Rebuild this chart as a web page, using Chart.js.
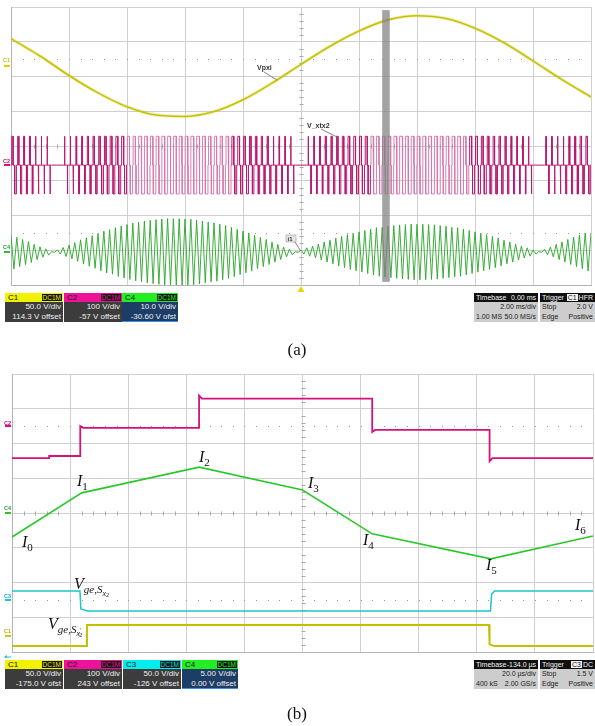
<!DOCTYPE html>
<html lang="en">
<head>
<meta charset="utf-8">
<title>Inverter waveforms</title>
<script src="https://cdn.jsdelivr.net/npm/chart.js@4.4.1/dist/chart.umd.min.js"></script>
<style>
  html,body{margin:0;padding:0;background:#fff}
  body{position:relative;width:595px;height:726px;overflow:hidden;font-family:"Liberation Sans",Arial,sans-serif}
  .scope{position:absolute;left:0}
  .scope canvas{display:block}
  .box{position:absolute;font-size:8px;line-height:9px;overflow:hidden;white-space:nowrap}
  .ch{width:58px;height:29px;background:#3c3c3c;color:#f0f0f0}
  .ch .hd{height:9px;padding-left:3px;color:#111;position:relative}
  .ch .tag{position:absolute;right:1px;top:1px;height:7px;line-height:7px;font-size:6.5px;padding:0 1px;background:#151515}
  .ch .rw{height:9.5px;line-height:9.5px;text-align:right;padding-right:2px}
  .ch.sel .rw{background:#1d3d66}
  .ch.sel{box-shadow:inset 0 0 0 1px #3d8fe8}
  .tb{height:29px;background:#cdcdcd;color:#1a1a1a;font-size:7px}
  .tb .hd{height:9px;background:#101010;color:#f4f4f4;padding:0 2px;display:flex;justify-content:space-between}
  .tb .rw{height:9.5px;line-height:9.5px;padding:0 2px;display:flex;justify-content:space-between}
  .tb .tg b{background:#f4f4f4;color:#111;font-weight:normal;padding:0 1px;margin-right:1px}
  svg.ann{position:absolute;left:0;top:0;pointer-events:none}
  .m{font-family:"Liberation Serif","Times New Roman",serif;font-size:16px;fill:#111}
  .sl{font-family:"Liberation Sans",Arial,sans-serif;font-size:7px;font-weight:bold;fill:#333}
  .ct{font-family:"Liberation Sans",Arial,sans-serif;font-size:5.5px;font-weight:bold}
</style>
</head>
<body>

<div class="scope" style="top:0"><canvas id="scopeA" width="595" height="292"></canvas></div>
<div class="scope" style="top:365px"><canvas id="scopeB" width="595" height="293"></canvas></div>

<!-- channel / timebase readouts, upper capture -->
<div class="box ch" style="left:5px;top:293px"><div class="hd" style="background:#f2f200">C1<span class="tag" style="color:#e8e800">DC1M</span></div><div class="rw">50.0 V/div</div><div class="rw">114.3 V offset</div></div>
<div class="box ch" style="left:64px;top:293px"><div class="hd" style="background:#ee1199">C2<span class="tag" style="color:#ee1199">DC1M</span></div><div class="rw">100 V/div</div><div class="rw">-57 V offset</div></div>
<div class="box ch sel" style="left:122px;top:293px;width:56px"><div class="hd" style="background:#22ee22">C4<span class="tag" style="color:#22ee22">DC1M</span></div><div class="rw">10.0 V/div</div><div class="rw">-30.60 V ofst</div></div>
<div class="box tb" style="left:474px;top:293px;width:64px"><div class="hd"><span>Timebase</span><span>0.00 ms</span></div><div class="rw"><span></span><span>2.00 ms/div</span></div><div class="rw"><span>1.00 MS</span><span>50.0 MS/s</span></div></div>
<div class="box tb" style="left:540px;top:293px;width:55px"><div class="hd"><span>Trigger</span><span class="tg"><b>C1</b>HFR</span></div><div class="rw"><span>Stop</span><span>2.0 V</span></div><div class="rw"><span>Edge</span><span>Positive</span></div></div>

<!-- channel / timebase readouts, lower capture -->
<div class="box ch" style="left:5px;top:660px"><div class="hd" style="background:#f2f200">C1<span class="tag" style="color:#e8e800">DC1M</span></div><div class="rw">50.0 V/div</div><div class="rw">-175.0 V ofst</div></div>
<div class="box ch" style="left:64px;top:660px"><div class="hd" style="background:#ee1199">C2<span class="tag" style="color:#ee1199">DC1M</span></div><div class="rw">100 V/div</div><div class="rw">243 V offset</div></div>
<div class="box ch" style="left:123px;top:660px"><div class="hd" style="background:#00eeee">C3<span class="tag" style="color:#00dddd">DC1M</span></div><div class="rw">50.0 V/div</div><div class="rw">-126 V offset</div></div>
<div class="box ch sel" style="left:182px;top:660px;width:56px"><div class="hd" style="background:#22ee22">C4<span class="tag" style="color:#22ee22">DC1M</span></div><div class="rw">5.00 V/div</div><div class="rw">0.00 V offset</div></div>
<div class="box tb" style="left:474px;top:660px;width:64px"><div class="hd"><span>Timebase</span><span>-134.0 µs</span></div><div class="rw"><span></span><span>20.0 µs/div</span></div><div class="rw"><span>400 kS</span><span>2.00 GS/s</span></div></div>
<div class="box tb" style="left:540px;top:660px;width:55px"><div class="hd"><span>Trigger</span><span class="tg"><b>C3</b>DC</span></div><div class="rw"><span>Stop</span><span>1.5 V</span></div><div class="rw"><span>Edge</span><span>Positive</span></div></div>

<svg class="ann" width="595" height="726" xmlns="http://www.w3.org/2000/svg">
  <!-- trace tags, upper capture -->
  <g stroke="#666" stroke-width="0.8">
    <line x1="264" y1="72" x2="277" y2="80"/>
    <line x1="321" y1="129" x2="337" y2="137"/>
    <line x1="295" y1="242" x2="300" y2="250"/>
  </g>
  <text x="257" y="70" class="sl">Vpxi</text>
  <text x="307" y="128" class="sl">V_xtx2</text>
  <rect x="286" y="235" width="10" height="7" fill="#e6e6e6" stroke="#999" stroke-width="0.6"/>
  <text x="287.5" y="241" class="sl" style="font-size:6px">i1</text>
  <text x="3" y="62" class="ct" fill="#c8c800">C1</text>
  <text x="3" y="163" class="ct" fill="#c0106a">C2</text>
  <text x="3" y="249" class="ct" fill="#20a020">C4</text>
  <!-- trace tags, lower capture -->
  <text x="4" y="425" class="ct" fill="#c0106a">C2</text>
  <text x="4" y="510" class="ct" fill="#20a020">C4</text>
  <text x="4" y="598" class="ct" fill="#10b0c0">C3</text>
  <text x="4" y="633" class="ct" fill="#b0b000">C1</text>

  <text x="22" y="547" class="m"><tspan font-style="italic">I</tspan><tspan font-size="11" dy="4">0</tspan></text>
  <text x="77" y="486" class="m"><tspan font-style="italic">I</tspan><tspan font-size="11" dy="4">1</tspan></text>
  <text x="199" y="462" class="m"><tspan font-style="italic">I</tspan><tspan font-size="11" dy="4">2</tspan></text>
  <text x="308" y="488" class="m"><tspan font-style="italic">I</tspan><tspan font-size="11" dy="4">3</tspan></text>
  <text x="363" y="545" class="m"><tspan font-style="italic">I</tspan><tspan font-size="11" dy="4">4</tspan></text>
  <text x="486" y="570" class="m"><tspan font-style="italic">I</tspan><tspan font-size="11" dy="4">5</tspan></text>
  <text x="575" y="530" class="m"><tspan font-style="italic">I</tspan><tspan font-size="11" dy="4">6</tspan></text>
  <text x="74" y="589" class="m"><tspan font-style="italic">V</tspan><tspan font-size="11" dy="4" font-style="italic">ge,S</tspan><tspan font-size="8" dy="2.5" font-style="italic">x</tspan><tspan font-size="6" dy="1.5">2</tspan></text>
  <text x="48" y="629" class="m"><tspan font-style="italic">V</tspan><tspan font-size="11" dy="4" font-style="italic">ge,S</tspan><tspan font-size="8" dy="2.5" font-style="italic">x</tspan><tspan font-size="6" dy="-3.5">′</tspan><tspan font-size="6" dx="-2" dy="5">2</tspan></text>

  <text x="297" y="355" class="m" text-anchor="middle" style="font-size:17px">(a)</text>
  <text x="297" y="719" class="m" text-anchor="middle" style="font-size:17px">(b)</text>
</svg>

<script>
// ===== Upper capture: 2.00 ms/div, one line period =====
const aTimeTicks = [-10, -8, -6, -4, -2, 0, 2, 4, 6, 8, 10];          // ms
const c1aTime = [-10, -9, -8, -7, -6, -5, -4, -3, -2, -1, 0, 1, 2, 3, 4, 5, 6, 7, 8, 9, 10]; // ms
const c1aVolt = [40, 15, -13, -38, -58, -70, -72, -65, -48, -24, 3, 29, 51, 67, 73, 69, 55, 34, 8, -19, -44]; // V
const swPeriodA = 0.2;      // ms, one switching period
const c2aLevel = 83;        // V, pulse height
// fraction of each switching period spent on each rail
const c2aWidth = [
  .23,.20,.17,.14,.10,.07,.04,0,0,.06,
  .09,.13,.16,.19,.22,.25,.28,.30,.33,.35,
  .37,.39,.41,.42,.43,.44,.45,.45,.45,.45,
  .45,.44,.43,.42,.41,.39,.37,.36,.33,.31,
  .28,.26,.23,.20,.17,.14,.10,.07,.04,0,
  0,.07,.10,.13,.16,.19,.23,.25,.28,.31,
  .33,.35,.37,.39,.41,.42,.43,.44,.45,.45,
  .45,.45,.45,.44,.43,.42,.41,.39,.37,.35,
  .33,.31,.28,.25,.23,.19,.16,.13,.10,.07,
  0,0,.04,.07,.10,.14,.17,.20,.23,.26];
// ripple current peak in each switching period, A
const c4aPeak = [
  4.9,4.2,3.6,3.0,2.2,1.5,0.9,0.1,0.6,1.3,
  2.0,2.7,3.5,4.1,4.7,5.4,6.0,6.4,7.0,7.5,
  7.9,8.3,8.6,8.9,9.1,9.3,9.5,9.6,9.6,9.6,
  9.5,9.4,9.2,8.9,8.6,8.4,8.0,7.6,7.1,6.5,
  6.0,5.5,4.8,4.2,3.6,2.9,2.2,1.4,0.8,0.1,
  0.6,1.2,1.7,2.3,2.9,3.4,4.0,4.5,5.0,5.4,
  5.8,6.2,6.6,7.0,7.1,7.4,7.6,7.8,7.9,8.0,
  8.0,8.0,7.9,7.8,7.6,7.4,7.1,7.0,6.6,6.2,
  5.8,5.4,5.0,4.5,4.0,3.4,2.9,2.3,1.7,1.2,
  0.6,0.1,0.8,1.4,2.2,2.9,3.6,4.2,4.8,5.5];
const cursorA = [2.8, 3.06];  // ms, highlighted span

// ===== Lower capture: 20.0 µs/div, zoom on one interval =====
const bTimeTicks = [-234, -214, -194, -174, -154, -134, -114, -94, -74, -54, -34]; // µs
const c4bTime = [-234, -210, -169.6, -134, -110, -69.2, -34];  // µs, I0..I6
const c4bAmp  = [-3.45, 2.9, 6.6, 3.3, -3.0, -6.6, -3.3];      // A
const c2bEdge = [-221.2, -210.5, -169.6, -110, -69.6];          // µs
const c2bLevel = [-92, -86, -5, 79, -11, -92];                  // V
const c2bOver = [0, 5, 9, -6, -9];                              // V, edge ringing
const c3bTime = [-234, -210.6, -210.3, -208, -69.3, -68.9, -67.9, -34];
const c3bVolt = [12.8, 12.8, -13, -16, -16, 8, 12.8, 12.8];
const c1bTime = [-234, -208.4, -208.2, -69.8, -69.6, -68, -34];
const c1bVolt = [-14.5, -14.5, 16, 16, -12, -14.5, -14.5];

// per-channel vertical settings: units per division and the division holding zero
const chanA = { c1: {perDiv: 50, zero: 6.29}, c2: {perDiv: 100, zero: 3.45}, c4: {perDiv: 10, zero: 0.95} };
const chanB = { c1: {perDiv: 50, zero: 0.46}, c2: {perDiv: 100, zero: 6.5}, c3: {perDiv: 50, zero: 1.5}, c4: {perDiv: 5, zero: 4.0} };

const COL = { c1: '#c4c000', c2: '#d3127a', c3: '#1ec4d0', c4: '#2ac82a' };

// ----- tables for the library -----
const zip = (xs, ys) => xs.map((x, i) => ({x, y: ys[i]}));

function pulseTable(widths, t0, T, level) {
  const pts = [], widthAt = [];
  widths.forEach((w, k) => {
    const a = t0 + k * T;
    if (w <= 0) { pts.push({x: a, y: 0}); widthAt.push(w); return; }
    const g = (1 - 2 * w) / 4 * T, p = w * T;
    const seq = [[a,0],[a+g,0],[a+g,level],[a+g+p,level],[a+g+p,0],[a+3*g+p,0],[a+3*g+p,-level],[a+3*g+2*p,-level],[a+3*g+2*p,0]];
    seq.forEach(([x, y]) => { pts.push({x, y}); widthAt.push(w); });
  });
  pts.push({x: t0 + widths.length * T, y: 0}); widthAt.push(0);
  return {pts, widthAt};
}

function rippleTable(peaks, t0, T) {
  const pts = [];
  peaks.forEach((p, k) => {
    pts.push({x: t0 + k * T, y: p});
    pts.push({x: t0 + (k + 0.5) * T, y: -p});
  });
  pts.push({x: t0 + peaks.length * T, y: peaks[peaks.length - 1]});
  return pts;
}

function stairTable(start, end, edges, levels, over) {
  const pts = [{x: start, y: levels[0]}];
  edges.forEach((t, i) => {
    pts.push({x: t, y: levels[i]}, {x: t, y: levels[i + 1] + over[i]}, {x: t + 1, y: levels[i + 1]});
  });
  pts.push({x: end, y: levels[levels.length - 1]});
  return pts;
}

// ----- shared scope furniture -----
const scopeDecor = {
  id: 'scopeDecor',
  beforeDatasetsDraw(chart, _args, o) {
    const {ctx} = chart, x = chart.scales.x, y = chart.scales.y;
    const xs = (x.max - x.min) / 50;
    const cx = Math.round(x.getPixelForValue((x.min + x.max) / 2)) + 0.5;
    const cy = Math.round(y.getPixelForValue(4)) + 0.5;
    ctx.save();
    ctx.strokeStyle = o.tickColor; ctx.lineWidth = 1; ctx.beginPath();
    for (let i = 1; i < 50; i++) {
      if (i % 5 === 0) continue;
      const px = Math.round(x.getPixelForValue(x.min + i * xs)) + 0.5;
      ctx.moveTo(px, cy - 2); ctx.lineTo(px, cy + 2);
    }
    for (let i = 1; i < 40; i++) {
      if (i % 5 === 0) continue;
      const py = Math.round(y.getPixelForValue(i * 0.2)) + 0.5;
      ctx.moveTo(cx - 2, py); ctx.lineTo(cx + 2, py);
    }
    ctx.stroke();
    ctx.fillStyle = o.dotColor;
    for (const lv of o.dotLevels) {
      const py = Math.round(y.getPixelForValue(lv));
      for (let i = 1; i < 50; i++) ctx.fillRect(Math.round(x.getPixelForValue(x.min + i * xs)), py, 1, 1);
    }
    ctx.restore();
  },
  afterDatasetsDraw(chart, _args, o) {
    const {ctx, chartArea: a} = chart, x = chart.scales.x, y = chart.scales.y;
    ctx.save();
    if (o.cursor) {
      const x0 = x.getPixelForValue(o.cursor[0]), x1 = x.getPixelForValue(o.cursor[1]);
      const y0 = y.getPixelForValue(7.91), y1 = y.getPixelForValue(0.09);
      ctx.fillStyle = 'rgba(128,128,128,0.72)';
      ctx.fillRect(x0, y0, x1 - x0, y1 - y0);
    }
    for (const m of o.markers) {
      const py = Math.round(chart.scales[m.axis].getPixelForValue(0));
      ctx.fillStyle = m.color;
      ctx.fillRect(a.left - 7, py - 1, 6, 2);
    }
    if (o.trigger) {
      const px = x.getPixelForValue(o.trigger.t);
      ctx.fillStyle = o.trigger.color;
      ctx.beginPath(); ctx.moveTo(px, a.bottom + 1); ctx.lineTo(px - 3.5, a.bottom + 7); ctx.lineTo(px + 3.5, a.bottom + 7); ctx.closePath(); ctx.fill();
    }
    if (o.levelArrow) {
      ctx.strokeStyle = o.levelArrow.color; ctx.fillStyle = o.levelArrow.color; ctx.lineWidth = 1;
      const py = a.bottom + 5;
      ctx.beginPath(); ctx.moveTo(a.left - 6, py); ctx.lineTo(a.left - 1, py); ctx.stroke();
      ctx.beginPath(); ctx.moveTo(a.left - 8, py); ctx.lineTo(a.left - 5, py - 2); ctx.lineTo(a.left - 5, py + 2); ctx.closePath(); ctx.fill();
    }
    ctx.restore();
  }
};

function chanScales(ch) {
  const out = {};
  for (const [id, c] of Object.entries(ch)) {
    out[id] = {type: 'linear', display: false, min: -c.zero * c.perDiv, max: (8 - c.zero) * c.perDiv};
  }
  return out;
}

function baseOptions(ticksX, pad, ch, decor) {
  const grid = {color: '#cfcfcf', lineWidth: 1, drawTicks: false};
  return {
    responsive: false, animation: false, devicePixelRatio: 1, events: [],
    layout: {padding: pad},
    plugins: {legend: {display: false}, tooltip: {enabled: false}, scopeDecor: decor},
    elements: {point: {radius: 0}, line: {tension: 0, borderCapStyle: 'butt'}},
    scales: Object.assign({
      x: {type: 'linear', min: ticksX[0], max: ticksX[ticksX.length - 1],
          afterBuildTicks: s => { s.ticks = ticksX.map(v => ({value: v})); },
          ticks: {display: false}, grid, border: {color: '#b4b4b4'}},
      y: {type: 'linear', min: 0, max: 8,
          afterBuildTicks: s => { s.ticks = [0,1,2,3,4,5,6,7,8].map(v => ({value: v})); },
          ticks: {display: false}, grid, border: {color: '#b4b4b4'}}
    }, chanScales(ch))
  };
}

// ----- upper capture -----
const c2a = pulseTable(c2aWidth, aTimeTicks[0], swPeriodA, c2aLevel);
new Chart(document.getElementById('scopeA'), {
  type: 'line',
  data: {datasets: [
    {label: 'C1 ripple', yAxisID: 'c1', data: zip(c1aTime, c1aVolt), borderColor: 'rgba(205,200,30,0.28)', borderWidth: 3.5, cubicInterpolationMode: 'monotone'},
    {label: 'C1', yAxisID: 'c1', data: zip(c1aTime, c1aVolt), borderColor: COL.c1, borderWidth: 1.6, cubicInterpolationMode: 'monotone'},
    {label: 'C2', yAxisID: 'c2', data: c2a.pts, borderWidth: 1,
     segment: {borderColor: ctx => c2a.widthAt[ctx.p0DataIndex] >= 0.36 ? 'rgba(214,120,172,0.95)' : '#b8186f'}},
    {label: 'C4', yAxisID: 'c4', data: rippleTable(c4aPeak, aTimeTicks[0], swPeriodA), borderColor: 'rgba(48,170,48,0.95)', borderWidth: 1}
  ]},
  options: baseOptions(aTimeTicks, {left: 11, right: 4, top: 7, bottom: 7}, chanA, {
    tickColor: '#a8a8a8', dotColor: '#9a9a9a', dotLevels: [1.5, 6.5], cursor: cursorA,
    markers: [{axis: 'c1', color: '#d8d000'}, {axis: 'c2', color: '#d3127a'}, {axis: 'c4', color: '#30c030'}],
    trigger: {t: 0, color: '#e8d400'}
  }),
  plugins: [scopeDecor]
});

// ----- lower capture -----
const tB0 = bTimeTicks[0], tB1 = bTimeTicks[bTimeTicks.length - 1];
new Chart(document.getElementById('scopeB'), {
  type: 'line',
  data: {datasets: [
    {label: 'C2', yAxisID: 'c2', data: stairTable(tB0, tB1, c2bEdge, c2bLevel, c2bOver), borderColor: COL.c2, borderWidth: 1.8},
    {label: 'C4', yAxisID: 'c4', data: zip(c4bTime, c4bAmp), borderColor: COL.c4, borderWidth: 1.6},
    {label: 'C3', yAxisID: 'c3', data: zip(c3bTime, c3bVolt), borderColor: COL.c3, borderWidth: 1.5},
    {label: 'C1', yAxisID: 'c1', data: zip(c1bTime, c1bVolt), borderColor: COL.c1, borderWidth: 2}
  ]},
  options: baseOptions(bTimeTicks, {left: 12, right: 2, top: 9, bottom: 6}, chanB, {
    tickColor: '#a8a8a8', dotColor: '#9a9a9a', dotLevels: [1.5, 6.5],
    markers: [{axis: 'c2', color: '#d3127a'}, {axis: 'c4', color: '#30c030'}, {axis: 'c3', color: '#1ec4d0'}, {axis: 'c1', color: '#d0c800'}],
    levelArrow: {color: '#1ec4d0'}
  }),
  plugins: [scopeDecor]
});
</script>
</body>
</html>
